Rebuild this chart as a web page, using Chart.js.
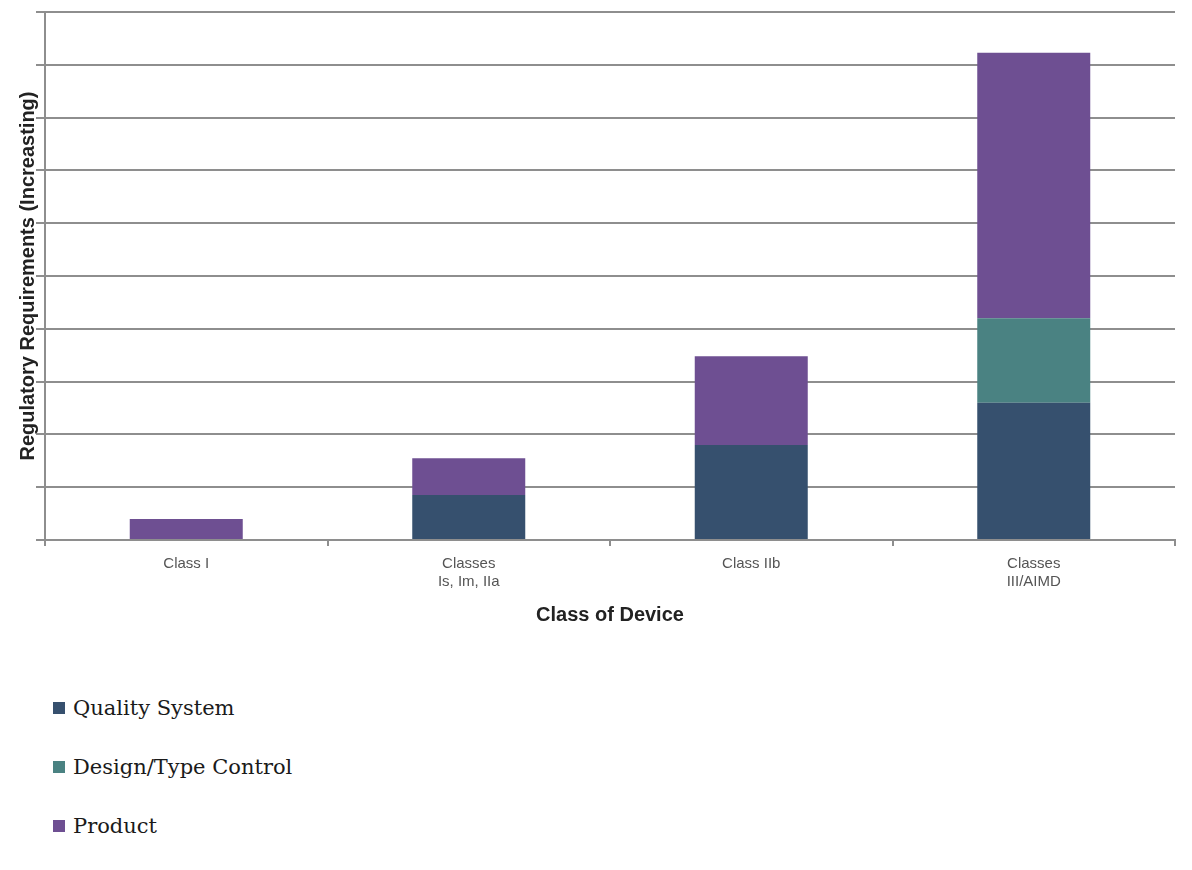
<!DOCTYPE html>
<html>
<head>
    <title>Regulatory Requirements by Class of Device</title>
    <style>
        body { margin: 0; background: #fff; font-family: Arial, "Liberation Sans", sans-serif; }
        .chart-container {
            position: relative;
            width: 1192px;
            height: 631px;
        }
        #legend {
            position: absolute;
            left: 53px;
            top: 688px;
            font-family: "DejaVu Serif", serif;
            font-size: 21px;
            color: #1a1a1a;
        }
        #legend div {
            display: flex;
            align-items: center;
            height: 40px;
            margin-bottom: 19px;
        }
        #legend span.box {
            display: inline-block;
            width: 12px;
            height: 12px;
            margin-right: 8px;
        }
    </style>
    <script src="https://cdn.jsdelivr.net/npm/chart.js"></script>
</head>
<body>
    <div class="chart-container">
        <canvas id="reqChart"></canvas>
    </div>
    <div id="legend"></div>

    <script>
        // values in gridline units
        const categories = [['Class I'], ['Classes', 'Is, Im, IIa'], ['Class IIb'], ['Classes', 'III/AIMD']];
        const qualitySystem = [0, 0.85, 1.8, 2.6];
        const designControl = [0, 0, 0, 1.6];
        const product = [0.4, 0.7, 1.68, 5.03];

        const seriesColors = {
            quality: '#36506e',
            design: '#4a8282',
            product: '#6e4f92'
        };
        const gridGray = '#8e8e8e';

        const ctx = document.getElementById('reqChart').getContext('2d');
        const chart = new Chart(ctx, {
            type: 'bar',
            data: {
                labels: categories,
                datasets: [
                    { label: 'Quality System', data: qualitySystem, backgroundColor: seriesColors.quality },
                    { label: 'Design/Type Control', data: designControl, backgroundColor: seriesColors.design },
                    { label: 'Product', data: product, backgroundColor: seriesColors.product }
                ]
            },
            options: {
                responsive: true,
                maintainAspectRatio: false,
                animation: false,
                barPercentage: 0.4,
                categoryPercentage: 1.0,
                layout: { padding: { top: 12, left: 21, right: 17, bottom: 0 } },
                plugins: {
                    legend: { display: false },
                    tooltip: { enabled: false }
                },
                scales: {
                    x: {
                        stacked: true,
                        grid: { drawOnChartArea: false, drawTicks: true, tickLength: 6, color: gridGray, lineWidth: 2 },
                        border: { color: gridGray, width: 2 },
                        ticks: {
                            color: '#555',
                            padding: 9,
                            maxRotation: 0,
                            font: { family: 'Arial', size: 15, lineHeight: 1.2 }
                        },
                        title: {
                            display: true,
                            text: 'Class of Device',
                            color: '#222',
                            font: { family: 'Arial', size: 20, weight: 'bold' },
                            padding: { top: 3, bottom: 4 }
                        }
                    },
                    y: {
                        stacked: true,
                        min: 0,
                        max: 10,
                        ticks: { stepSize: 1, display: false },
                        grid: { color: gridGray, lineWidth: 2, tickLength: 9 },
                        border: { color: gridGray, width: 2 },
                        title: {
                            display: true,
                            text: 'Regulatory Requirements (Increasting)',
                            color: '#222',
                            font: { family: 'Arial', size: 20, weight: 'bold', lineHeight: 0.75 },
                            padding: { top: 0, bottom: 0 }
                        }
                    }
                }
            }
        });

        // legend stacked vertically below the chart
        const legendEl = document.getElementById('legend');
        chart.data.datasets.forEach(ds => {
            const row = document.createElement('div');
            row.innerHTML = `<span class="box" style="background:${ds.backgroundColor}"></span>${ds.label}`;
            legendEl.appendChild(row);
        });
    </script>
</body>
</html>
